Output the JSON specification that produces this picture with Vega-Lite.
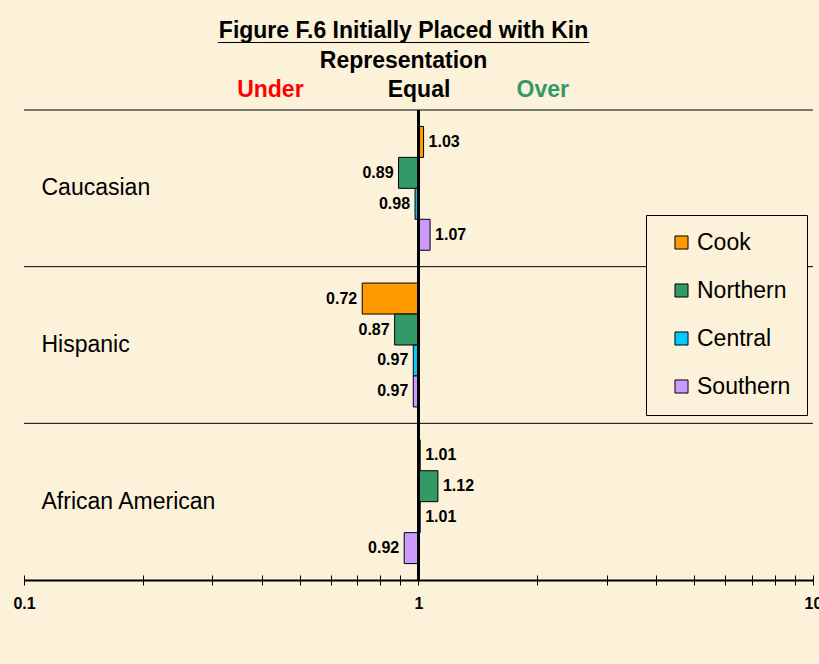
{
  "$schema": "https://vega.github.io/schema/vega-lite/v6.json",
  "width": 789,
  "height": 470,
  "autosize": "none",
  "padding": {"left": 24, "top": 110, "right": 6, "bottom": 84},
  "background": "#FCF1D9",
  "config": {"view": {"stroke": null}, "font": "Liberation Sans"},
  "title": {
    "text": ["Figure F.6 Initially Placed with Kin", "_____________________________"],
    "subtitle": "Representation",
    "fontSize": 23,
    "fontWeight": "bold",
    "lineHeight": 2,
    "color": "black",
    "subtitleFontSize": 23,
    "subtitleFontWeight": "bold",
    "subtitleColor": "black",
    "subtitleFont": "Liberation Sans",
    "font": "Liberation Sans",
    "anchor": "middle",
    "frame": "group",
    "dx": -15,
    "offset": 5,
    "subtitlePadding": 5
  },
  "datasets": {
    "bars": [
      {"group": "Caucasian", "series": "Cook", "value": 1.03},
      {"group": "Caucasian", "series": "Northern", "value": 0.89},
      {"group": "Caucasian", "series": "Central", "value": 0.98},
      {"group": "Caucasian", "series": "Southern", "value": 1.07},
      {"group": "Hispanic", "series": "Cook", "value": 0.72},
      {"group": "Hispanic", "series": "Northern", "value": 0.87},
      {"group": "Hispanic", "series": "Central", "value": 0.97},
      {"group": "Hispanic", "series": "Southern", "value": 0.97},
      {"group": "African American", "series": "Cook", "value": 1.01},
      {"group": "African American", "series": "Northern", "value": 1.12},
      {"group": "African American", "series": "Central", "value": 1.01},
      {"group": "African American", "series": "Southern", "value": 0.92}
    ],
    "groups": [
      {"group": "Caucasian"},
      {"group": "Hispanic"},
      {"group": "African American"}
    ],
    "equal": [{"v": 1}]
  },
  "layer": [
    {
      "data": {"name": "groups"},
      "mark": {"type": "rule", "color": "black", "strokeWidth": 1},
      "encoding": {
        "y": {"field": "group", "type": "nominal", "bandPosition": 0, "sort": ["Caucasian", "Hispanic", "African American"]}
      }
    },
    {
      "data": {"name": "bars"},
      "mark": {"type": "bar", "stroke": "black", "strokeWidth": 1},
      "encoding": {
        "y": {
          "field": "group", "type": "nominal",
          "sort": ["Caucasian", "Hispanic", "African American"],
          "scale": {"paddingInner": 0, "paddingOuter": 0},
          "axis": {"title": null, "domain": false, "ticks": false, "labelAlign": "left", "labelPadding": -17, "labelFontSize": 23, "labelColor": "black", "labelFont": "Liberation Sans", "labelLimit": 300}
        },
        "yOffset": {
          "field": "series", "type": "nominal",
          "sort": ["Cook", "Northern", "Central", "Southern"],
          "scale": {"paddingInner": 0, "paddingOuter": 0.53}
        },
        "x": {
          "field": "value", "type": "quantitative",
          "scale": {"type": "log", "domain": [0.1, 10]},
          "axis": {
            "orient": "bottom", "title": null, "grid": false,
            "values": [0.1, 0.2, 0.3, 0.4, 0.5, 0.6, 0.7, 0.8, 0.9, 1, 2, 3, 4, 5, 6, 7, 8, 9, 10],
            "labelExpr": "datum.value == 0.1 ? '0.1' : datum.value == 1 ? '1' : datum.value == 10 ? '10' : ''",
            "domainColor": "black", "domainWidth": 2, "tickColor": "black", "tickSize": 5, "tickWidth": 1,
            "labelFontSize": 16, "labelFontWeight": "bold", "labelColor": "black", "labelPadding": 10,
            "labelOverlap": false, "labelFlush": false, "labelBound": false
          }
        },
        "x2": {"datum": 1},
        "color": {
          "field": "series", "type": "nominal",
          "scale": {"domain": ["Cook", "Northern", "Central", "Southern"], "range": ["#FF9900", "#339966", "#00CCFF", "#CC99FF"]},
          "legend": {
            "orient": "none", "legendX": 622, "legendY": 105, "title": null,
            "fillColor": "#FCF1D9", "strokeColor": "black", "padding": 16,
            "symbolType": "square", "symbolSize": 170, "symbolStrokeColor": "black", "symbolStrokeWidth": 1, "symbolOpacity": 1,
            "labelFontSize": 23, "labelColor": "black", "labelFont": "Liberation Sans",
            "labelExpr": "datum.label + ' '",
            "rowPadding": 24, "symbolOffset": 8, "labelOffset": 4
          }
        }
      }
    },
    {
      "data": {"name": "bars"},
      "transform": [{"filter": "datum.value > 1"}],
      "mark": {"type": "text", "align": "left", "baseline": "middle", "dx": 5, "fontSize": 16, "fontWeight": "bold", "color": "black"},
      "encoding": {
        "y": {"field": "group", "type": "nominal", "sort": ["Caucasian", "Hispanic", "African American"]},
        "yOffset": {"field": "series", "type": "nominal", "sort": ["Cook", "Northern", "Central", "Southern"]},
        "x": {"field": "value", "type": "quantitative", "axis": null},
        "text": {"field": "value", "type": "quantitative", "format": ".2f"}
      }
    },
    {
      "data": {"name": "bars"},
      "transform": [{"filter": "datum.value < 1"}],
      "mark": {"type": "text", "align": "right", "baseline": "middle", "dx": -5, "fontSize": 16, "fontWeight": "bold", "color": "black"},
      "encoding": {
        "y": {"field": "group", "type": "nominal", "sort": ["Caucasian", "Hispanic", "African American"]},
        "yOffset": {"field": "series", "type": "nominal", "sort": ["Cook", "Northern", "Central", "Southern"]},
        "x": {
          "field": "value", "type": "quantitative",
          "axis": {
            "orient": "bottom", "title": null, "grid": false, "domain": false, "labels": false,
            "values": [0.1, 0.2, 0.3, 0.4, 0.5, 0.6, 0.7, 0.8, 0.9, 1, 2, 3, 4, 5, 6, 7, 8, 9, 10],
            "ticks": true, "tickSize": -5, "tickColor": "black", "tickWidth": 1
          }
        },
        "text": {"field": "value", "type": "quantitative", "format": ".2f"}
      }
    },
    {
      "data": {"name": "equal"},
      "mark": {"type": "rule", "color": "black", "strokeWidth": 3},
      "encoding": {
        "x": {
          "field": "v", "type": "quantitative",
          "axis": {
            "orient": "top", "title": null, "grid": false, "domain": false, "ticks": false, "tickSize": 0,
            "values": [0.42, 1, 2.06],
            "labelExpr": "datum.value < 0.9 ? 'Under' : datum.value > 1.5 ? 'Over' : 'Equal'",
            "labelColor": {"condition": [{"test": "datum.value < 0.9", "value": "#FF0000"}, {"test": "datum.value > 1.5", "value": "#339966"}], "value": "black"},
            "labelFontSize": 23, "labelFontWeight": "bold", "labelFont": "Liberation Sans",
            "labelPadding": 21, "labelBaseline": "middle", "labelOverlap": false, "labelBound": false, "labelFlush": false
          }
        }
      }
    }
  ],
  "resolve": {"axis": {"x": "independent"}}
}
